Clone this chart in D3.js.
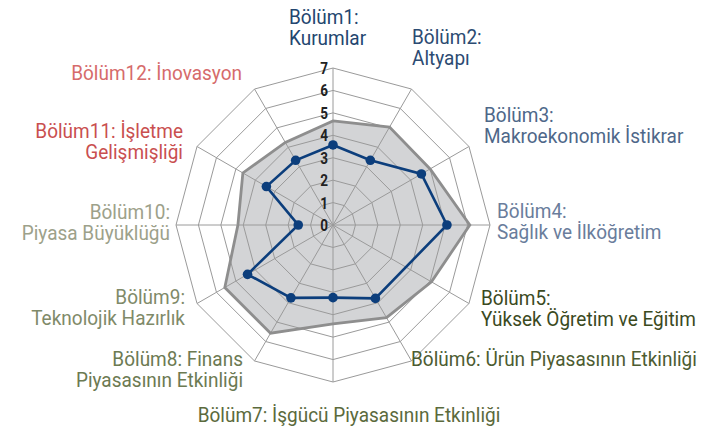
<!DOCTYPE html>
<html>
<head>
<meta charset="utf-8">
<script src="https://cdn.jsdelivr.net/npm/d3@7"></script>
<style>
  html, body { margin: 0; padding: 0; background: #fff; }
  svg { display: block; }
  .lbl { font-family: Roboto, "Liberation Sans", sans-serif; font-size: 20px; }
  .tick { font-family: Roboto, "Liberation Sans", sans-serif; font-size: 16.5px; font-weight: bold; fill: #222; }
</style>
</head>
<body>
<svg id="chart" width="715" height="437"></svg>
<script>
// ---- data ----
const categories = [
  ["Bölüm1:", "Kurumlar"],
  ["Bölüm2:", "Altyapı"],
  ["Bölüm3:", "Makroekonomik İstikrar"],
  ["Bölüm4:", "Sağlık ve İlköğretim"],
  ["Bölüm5:", "Yüksek Öğretim ve Eğitim"],
  ["Bölüm6: Ürün Piyasasının Etkinliği"],
  ["Bölüm7: İşgücü Piyasasının Etkinliği"],
  ["Bölüm8: Finans", "Piyasasının Etkinliği"],
  ["Bölüm9:", "Teknolojik Hazırlık"],
  ["Bölüm10:", "Piyasa Büyüklüğü"],
  ["Bölüm11: İşletme", "Gelişmişliği"],
  ["Bölüm12: İnovasyon"]
];
const referenceValues = [4.64, 5.04, 5.0, 6.1, 5.07, 4.77, 4.41, 5.57, 5.57, 4.24, 4.64, 4.25];
const countryValues   = [3.57, 3.33, 4.55, 5.08, null, 3.78, 3.24, 3.75, 4.4, 1.55, 3.43, 3.33];
const tickValues = [0, 1, 2, 3, 4, 5, 6, 7];

// ---- layout ----
const labelColors = ["#23466f", "#2c4b72", "#4e6789", "#6a7d9c", "#3b4a1e", "#4d5c31",
                     "#5b6a3c", "#6c7a52", "#7f8a69", "#9da18a", "#c94f4f", "#d66b6b"];
const labelLayout = [
  {x: 289, y: 24, a: "start"}, {x: 412, y: 44, a: "start"}, {x: 484, y: 122, a: "start"},
  {x: 497, y: 218, a: "start"}, {x: 481, y: 305, a: "start"}, {x: 411, y: 366, a: "start"},
  {x: 349, y: 422, a: "middle"}, {x: 243, y: 366, a: "end"}, {x: 185, y: 304, a: "end"},
  {x: 170, y: 219, a: "end"}, {x: 183, y: 138, a: "end"}, {x: 242, y: 80, a: "end"}
];
const cx = 333, cy = 225, R = 157;

const svg = d3.select("#chart");
const g = svg.append("g").attr("transform", `translate(${cx},${cy})`);

const n = categories.length;
const angle = d3.scaleLinear().domain([0, n]).range([0, 2 * Math.PI]);
const r = d3.scaleLinear().domain([0, 7]).range([0, R]);
const pt = (i, v) => [Math.sin(angle(i)) * r(v), -Math.cos(angle(i)) * r(v)];
const idx = d3.range(n);

// reference area fill
g.append("path")
  .attr("d", "M" + idx.map(i => pt(i, referenceValues[i]).join(",")).join("L") + "Z")
  .attr("fill", "#d3d4d6");

// grid rings
tickValues.filter(t => t > 0).forEach(t => {
  g.append("path")
    .attr("d", "M" + idx.map(i => pt(i, t).join(",")).join("L") + "Z")
    .attr("fill", "none").attr("stroke", "#9a9a9a").attr("stroke-width", 1);
});
// spokes
idx.forEach(i => {
  const p = pt(i, 7);
  g.append("line").attr("x1", 0).attr("y1", 0).attr("x2", p[0]).attr("y2", p[1])
    .attr("stroke", "#9a9a9a").attr("stroke-width", 1);
});

// reference outline
g.append("path")
  .attr("d", "M" + idx.map(i => pt(i, referenceValues[i]).join(",")).join("L") + "Z")
  .attr("fill", "none").attr("stroke", "#8e8e8e").attr("stroke-width", 2.8);

// country series
const defined = idx.filter(i => countryValues[i] != null);
g.append("path")
  .attr("d", "M" + defined.map(i => pt(i, countryValues[i]).join(",")).join("L") + "Z")
  .attr("fill", "none").attr("stroke", "#0c3e7c").attr("stroke-width", 2.6);
g.selectAll("circle.dot").data(defined).enter().append("circle")
  .attr("cx", i => pt(i, countryValues[i])[0]).attr("cy", i => pt(i, countryValues[i])[1])
  .attr("r", 4.8).attr("fill", "#0c3e7c");

// tick labels (condensed)
const tickScale = 0.82;
g.selectAll("text.tick").data(tickValues).enter().append("text")
  .attr("class", "tick").attr("text-anchor", "end").attr("dy", "0.36em")
  .attr("transform", t => `translate(-5,${-r(t)}) scale(${tickScale},1)`)
  .text(t => t);

// measure to compress labels horizontally to a condensed look
const probe = svg.append("text").attr("class", "lbl").text(categories[5][0]);
const sx = 286 / probe.node().getComputedTextLength();
probe.remove();

// category labels
categories.forEach((lines, i) => {
  const L = labelLayout[i];
  const t = svg.append("text").attr("class", "lbl").attr("text-anchor", L.a)
    .attr("fill", labelColors[i])
    .attr("transform", `translate(${L.x},${L.y}) scale(${sx},1)`);
  lines.forEach((s, k) => {
    t.append("tspan").attr("x", 0).attr("y", k * 21.5).text(s);
  });
});
</script>
</body>
</html>
